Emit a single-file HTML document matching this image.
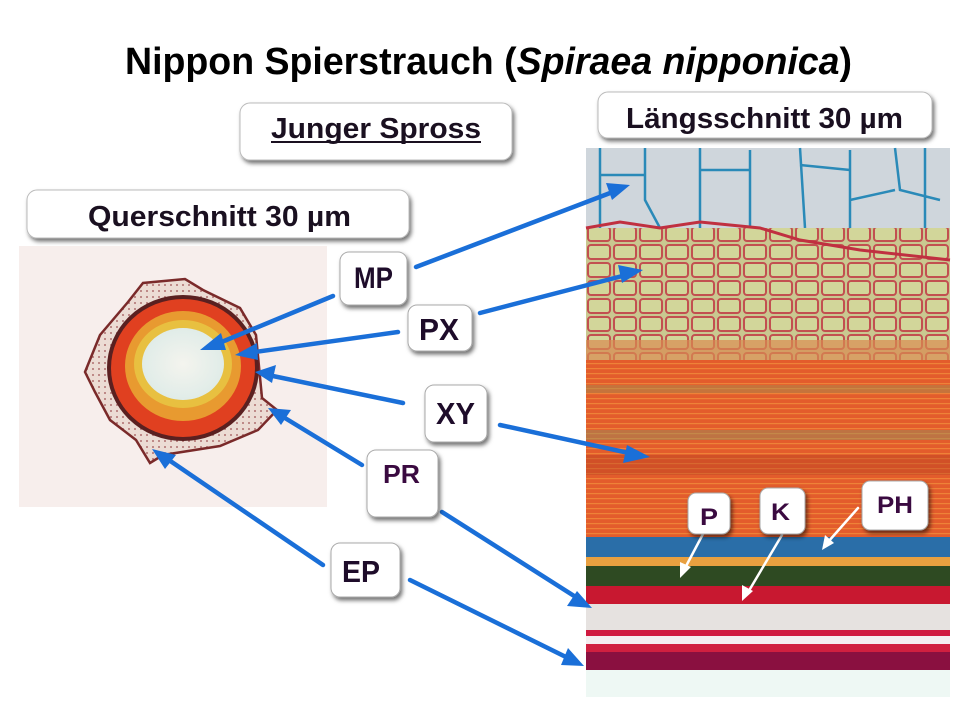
<!DOCTYPE html>
<html><head><meta charset="utf-8"><style>
html,body{margin:0;padding:0;background:#fff}
svg{display:block}
text{font-family:"Liberation Sans",sans-serif;font-weight:bold}
</style></head><body>
<svg width="960" height="720" viewBox="0 0 960 720" xmlns="http://www.w3.org/2000/svg">
<defs>
<filter id="sh" x="-20%" y="-20%" width="150%" height="160%"><feDropShadow dx="2" dy="3" stdDeviation="2" flood-color="#000" flood-opacity="0.55"/></filter>
<pattern id="cells" x="586" y="225" width="26" height="18" patternUnits="userSpaceOnUse">
<rect width="26" height="18" fill="#c9c890"/><rect x="2" y="2" width="22" height="14" rx="3" fill="#d2d69a" stroke="#c25050" stroke-width="2"/></pattern>
<pattern id="str" width="20" height="5" patternUnits="userSpaceOnUse"><rect width="20" height="5" fill="#e35c2c"/><rect y="3" width="20" height="1.2" fill="#ee8238"/></pattern>
<pattern id="ctx" width="6" height="6" patternUnits="userSpaceOnUse"><rect width="6" height="6" fill="#ecdcd4"/><circle cx="3" cy="3" r="1" fill="#b07070"/></pattern>
<radialGradient id="pith" cx="50%" cy="50%" r="50%"><stop offset="0" stop-color="#f4f4ee"/><stop offset="1" stop-color="#e0ece8"/></radialGradient>
</defs>

<!-- Title -->
<text x="125" y="74" font-size="38" fill="#000" textLength="727" lengthAdjust="spacingAndGlyphs">Nippon Spierstrauch (<tspan font-style="italic">Spiraea  nipponica</tspan>)</text>

<!-- header boxes -->
<rect x="240" y="103" width="272" height="57" rx="10" fill="#fff" stroke="#bbb" filter="url(#sh)"/>
<text x="271" y="138" font-size="29" fill="#1a1020" textLength="210" lengthAdjust="spacingAndGlyphs">Junger Spross</text>
<rect x="271" y="141" width="210" height="2" fill="#1a1020"/>
<rect x="598" y="92" width="334" height="46" rx="10" fill="#fff" stroke="#bbb" filter="url(#sh)"/>
<text x="626" y="128" font-size="29" fill="#1a1020" textLength="277" lengthAdjust="spacingAndGlyphs">Längsschnitt 30 µm</text>
<rect x="27" y="190" width="382" height="48" rx="10" fill="#fff" stroke="#bbb" filter="url(#sh)"/>
<text x="88" y="226" font-size="29" fill="#1a1020" textLength="263" lengthAdjust="spacingAndGlyphs">Querschnitt 30 µm</text>

<!-- left image -->
<rect x="19" y="246" width="308" height="261" fill="#f7eeec"/>
<polygon points="85,372 100,335 128,302 143,283 185,279 203,290 240,308 256,335 262,398 277,410 258,430 220,446 163,455 150,463 136,440 110,420 95,392" fill="url(#ctx)" stroke="#7a2a2a" stroke-width="2.5"/>
<ellipse cx="183" cy="368" rx="76" ry="73" fill="#5a2020"/>
<ellipse cx="183" cy="368" rx="72" ry="69" fill="#e04020"/>
<ellipse cx="183" cy="366" rx="58" ry="55" fill="#e89a30"/>
<ellipse cx="183" cy="364" rx="49" ry="44" fill="#e8c040"/>
<ellipse cx="183" cy="364" rx="41" ry="36" fill="url(#pith)"/>

<!-- right image -->
<rect x="586" y="148" width="364" height="549" fill="#eef8f4"/>
<rect x="586" y="148" width="364" height="80" fill="#cfd6dc"/>
<g stroke="#2a8ab8" stroke-width="2.5" fill="none">
<path d="M600 148 V228 M645 148 V200 L660 228 M700 148 V228 M750 150 V228 M800 148 L805 228 M850 150 V230 M895 148 L900 190 L940 200 M925 148 V260"/>
<path d="M600 175 H645 M700 170 H750 M800 165 L850 170 M895 190 L850 200"/>
</g>
<rect x="586" y="228" width="364" height="132" fill="url(#cells)"/>
<path d="M586 228 L620 222 L660 228 L700 222 L760 228 L800 240 L860 250 L950 260" stroke="#c03040" stroke-width="3" fill="none"/>
<rect x="586" y="340" width="364" height="20" fill="#d88a50" opacity="0.7"/>
<rect x="586" y="360" width="364" height="178" fill="url(#str)"/>
<rect x="586" y="385" width="364" height="8" fill="#a09050" opacity="0.45"/>
<rect x="586" y="430" width="364" height="10" fill="#909060" opacity="0.45"/>
<rect x="586" y="455" width="364" height="20" fill="#b03a20" opacity="0.35"/>
<rect x="586" y="537" width="364" height="20" fill="#2a6ea8"/>
<rect x="586" y="557" width="364" height="9" fill="#e8a040"/>
<rect x="586" y="566" width="364" height="20" fill="#2e4a22"/>
<rect x="586" y="586" width="364" height="18" fill="#c81830"/>
<rect x="586" y="604" width="364" height="26" fill="#e6e2e0"/>
<rect x="586" y="630" width="364" height="6" fill="#d01a40"/>
<rect x="586" y="636" width="364" height="8" fill="#f4eef0"/>
<rect x="586" y="644" width="364" height="8" fill="#d02040"/>
<rect x="586" y="652" width="364" height="18" fill="#8a1040"/>

<!-- blue arrows -->
<g stroke="#1a6fd8" stroke-width="4.5" fill="none" stroke-linecap="round">
<line x1="416" y1="267" x2="618" y2="190"/>
<line x1="333" y1="296" x2="212" y2="346"/>
<line x1="480" y1="313" x2="630" y2="274"/>
<line x1="398" y1="332" x2="248" y2="353"/>
<line x1="500" y1="425" x2="638" y2="455"/>
<line x1="403" y1="403" x2="268" y2="375"/>
<line x1="362" y1="465" x2="280" y2="415"/>
<line x1="442" y1="512" x2="582" y2="601"/>
<line x1="323" y1="565" x2="163" y2="456"/>
<line x1="410" y1="580" x2="572" y2="660"/>
</g>
<g fill="#1a6fd8">
<polygon points="630,185 606,183 612,200"/>
<polygon points="200,350 221,333 226,350"/>
<polygon points="643,270 618,265 622,283"/>
<polygon points="235,355 257,343 258,360"/>
<polygon points="650,457 627,445 623,463"/>
<polygon points="255,372 276,365 272,383"/>
<polygon points="268,408 291,410 281,425"/>
<polygon points="592,608 577,591 567,606"/>
<polygon points="152,449 176,455 165,469"/>
<polygon points="584,666 568,648 561,665"/>
</g>

<!-- white arrows -->
<g stroke="#fff" stroke-width="2.5" stroke-linecap="round">
<line x1="703" y1="534" x2="684" y2="570"/>
<line x1="782" y1="535" x2="747" y2="594"/>
<line x1="858" y1="508" x2="828" y2="542"/>
</g>
<g fill="#fff">
<polygon points="680,578 680,562 691,567"/>
<polygon points="742,601 742,585 753,591"/>
<polygon points="822,550 825,535 834,543"/>
</g>

<!-- label boxes -->
<g fill="#fff" stroke="#aaa" filter="url(#sh)">
<rect x="340" y="252" width="67" height="53" rx="9"/>
<rect x="408" y="305" width="64" height="46" rx="9"/>
<rect x="425" y="385" width="62" height="57" rx="9"/>
<rect x="367" y="450" width="71" height="67" rx="9"/>
<rect x="331" y="543" width="69" height="54" rx="9"/>
<rect x="688" y="493" width="42" height="41" rx="8"/>
<rect x="760" y="488" width="45" height="46" rx="8"/>
<rect x="862" y="481" width="66" height="49" rx="8"/>
</g>
<g fill="#1e0c2a">
<text x="354" y="288" font-size="30" textLength="39" lengthAdjust="spacingAndGlyphs">MP</text>
<text x="419" y="340" font-size="31" textLength="40" lengthAdjust="spacingAndGlyphs">PX</text>
<text x="436" y="424" font-size="31" textLength="39" lengthAdjust="spacingAndGlyphs">XY</text>
<text x="383" y="483" font-size="26" fill="#3a0a40" textLength="37" lengthAdjust="spacingAndGlyphs">PR</text>
<text x="342" y="582" font-size="31" textLength="38" lengthAdjust="spacingAndGlyphs">EP</text>
<text x="700" y="525" font-size="24" fill="#3a0a40" textLength="18" lengthAdjust="spacingAndGlyphs">P</text>
<text x="771" y="520" font-size="24" fill="#3a0a40" textLength="19" lengthAdjust="spacingAndGlyphs">K</text>
<text x="877" y="513" font-size="24" fill="#3a0a40" textLength="36" lengthAdjust="spacingAndGlyphs">PH</text>
</g>
</svg>
</body></html>
